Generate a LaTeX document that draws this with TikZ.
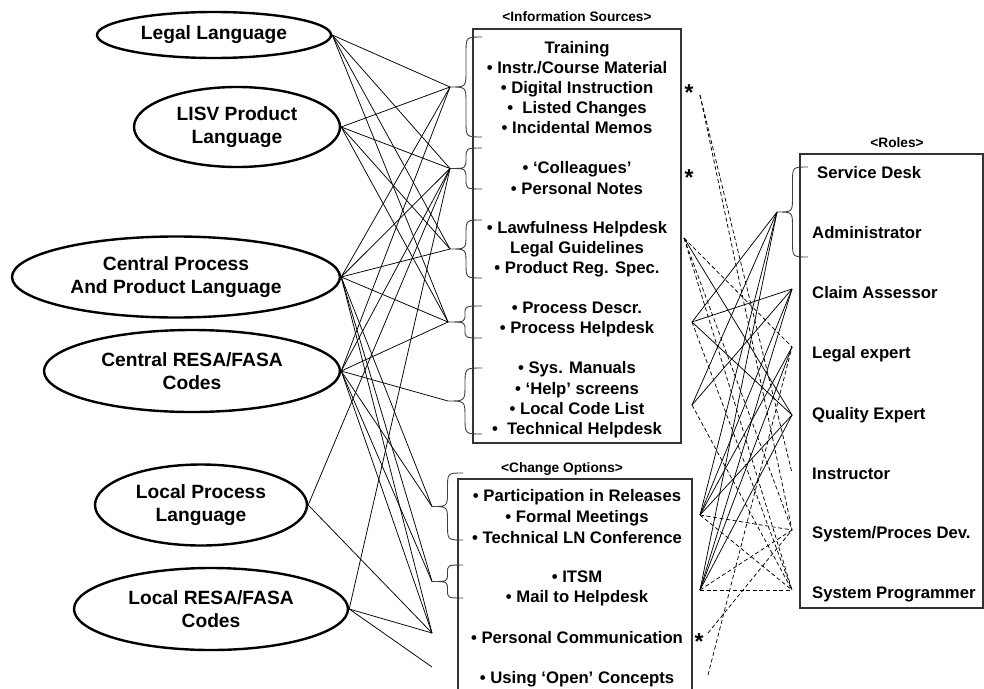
\documentclass[tikz,border=0pt]{standalone}
\usepackage{fontspec}
\setmainfont{Liberation Sans}
\usetikzlibrary{shapes.geometric}

% left curly brace: name, x of the hook ends, top y, bottom y, x of the tip
\newcommand\bracel[5]{%
  \pgfmathsetmacro\bxm{(#2+#5)/2}%
  \pgfmathsetmacro\bym{(#3+#4)/2}%
  \pgfmathsetmacro\brv{min((#2-#5)/2,(#4-#3)/4)}%
  \coordinate (#1) at (#5,\bym);
  \draw[bracket] (#2,#3) .. controls (\bxm,#3) .. (\bxm,{#3+\brv})
     -- (\bxm,{\bym-\brv}) .. controls (\bxm,\bym) .. (#1)
     .. controls (\bxm,\bym) .. (\bxm,{\bym+\brv})
     -- (\bxm,{#4-\brv}) .. controls (\bxm,#4) .. (#2,#4);
}

\begin{document}
\begin{tikzpicture}[x=1pt,y=-1pt,
  lang/.style={draw, line width=2.4pt, ellipse, inner sep=0pt, align=center,
    font=\fontsize{19.2}{23.5}\selectfont\bfseries},
  src/.style={anchor=base, inner sep=0pt, font=\fontsize{16.7}{20}\selectfont\bfseries},
  role/.style={anchor=base west, inner sep=0pt, font=\fontsize{16.7}{20}\selectfont\bfseries},
  head/.style={anchor=base, inner sep=0pt, font=\fontsize{13.7}{16}\selectfont\bfseries},
  starmark/.style={anchor=base, inner sep=0pt, font=\fontsize{23}{26}\selectfont\bfseries},
  panel/.style={draw=black!80, line width=1.1pt},
  bracket/.style={draw=black!75, line width=0.9pt},
  link/.style={line width=0.75pt},
  dlink/.style={line width=0.75pt, dash pattern=on 4pt off 2.6pt},
]
\useasboundingbox (0,0) rectangle (984,688);
\clip (0,0) rectangle (984,688);
\fill[white] (0,0) rectangle (984,688);

% ---- language ellipses
\node[lang, minimum width=234pt, minimum height=46pt] (legal) at (214,35) {Legal Language};
\node[lang, minimum width=206pt, minimum height=80pt] (lisv) at (237,127) {LISV Product\\Language};
\node[lang, minimum width=328pt, minimum height=81pt] (cpp) at (176,277) {Central Process\\And Product Language};
\node[lang, minimum width=296pt, minimum height=82pt] (cresa) at (192,371) {Central RESA/FASA\\Codes};
\node[lang, minimum width=212pt, minimum height=81pt] (lpl) at (201,505) {Local Process\\Language};
\node[lang, minimum width=274pt, minimum height=82pt] (lresa) at (211,609) {Local RESA/FASA\\Codes};

% ---- information sources
\node[head] (hsrc) at (577,21) {<Information Sources>};
\draw[panel] (473,29) rectangle (681,443);
\foreach \t [count=\i] in {Training, • Instr./Course Material, • Digital Instruction,
    •\ \ Listed Changes, • Incidental Memos}
  \node[src] (sa\i) at (577,{33+20*\i}) {\t};
\node[src] (sb1) at (577,173) {• ‘Colleagues’};
\node[src] (sb2) at (577,194) {• Personal Notes};
\node[src] (sc1) at (577,233) {• Lawfulness Helpdesk};
\node[src] (sc2) at (577,253) {Legal Guidelines};
\node[src] (sc3) at (577,273) {• Product Reg. Spec.};
\node[src] (sd1) at (577,313) {• Process Descr.};
\node[src] (sd2) at (577,333) {• Process Helpdesk};
\node[src] (se1) at (577,373) {• Sys. Manuals};
\node[src] (se2) at (577,394) {• ‘Help’ screens};
\node[src] (se3) at (577,414) {• Local Code List};
\node[src] (se4) at (577,434) {•\ \ Technical Helpdesk};

\bracel{t1}{482}{37}{137}{450}
\bracel{t2}{482}{148}{189}{450}
\bracel{t3}{482}{220}{278}{450}
\bracel{t4}{482}{306}{338}{448}
\bracel{t5}{482}{368}{434}{448}

% ---- change options
\node[head] (hchg) at (562,472) {<Change Options>};
\draw[panel] (458,700) -- (458,479) -- (692,479) -- (692,700);
\node[src] (ca1) at (577,501) {• Participation in Releases};
\node[src] (ca2) at (577,522) {• Formal Meetings};
\node[src] (ca3) at (577,543) {• Technical LN Conference};
\node[src] (cb1) at (577,582) {• ITSM};
\node[src] (cb2) at (577,602) {• Mail to Helpdesk};
\node[src] (cc1) at (577,643) {• Personal Communication};
\node[src] (cd1) at (577,683) {• Using ‘Open’ Concepts};

\bracel{c1}{463}{473}{540}{432}
\bracel{c2}{463}{565}{598}{432}
\coordinate (c3) at (432,633);
\coordinate (c4) at (432,667);

% ---- roles
\node[head] (hrole) at (897,147) {<Roles>};
\draw[panel] (800,154) rectangle (983,608);
\node[role] (r1) at (817,178) {Service Desk};
\node[role] (r2) at (812,238) {Administrator};
\node[role] (r3) at (812,298) {Claim Assessor};
\node[role] (r4) at (812,358) {Legal expert};
\node[role] (r5) at (812,419) {Quality Expert};
\node[role] (r6) at (812,479) {Instructor};
\node[role] (r7) at (812,538) {System/Proces Dev.};
\node[role] (r8) at (812,598) {System Programmer};
\bracel{rb}{808}{167}{257}{777}

% ---- markers
\node[starmark] (st1) at (689,100) {*};
\node[starmark] (st2) at (689,185) {*};
\node[starmark] (st3) at (699,649) {*};

% ---- connection points on the right of the source panels
\coordinate (s1) at (700,95);
\coordinate (s3) at (684,238);
\coordinate (s4) at (692,322);
\coordinate (s5) at (692,405);
\coordinate (g1) at (700,515);
\coordinate (g2) at (700,590);
\coordinate (g3) at (708,633);
\coordinate (g4) at (708,675);
\coordinate (rc) at (792,289);
\coordinate (rl) at (792,347);
\coordinate (rq) at (792,415);
\coordinate (ri) at (792,473);
\coordinate (rd) at (792,530);
\coordinate (rp) at (792,590);

% ---- languages to sources and change options
\foreach \a/\b in {legal/t1, legal/t2, legal/t3, legal/t4,
    lisv/t1, lisv/t2, lisv/t3, lisv/t4,
    cpp/t1, cpp/t2, cpp/t3, cpp/t4, cpp/c1, cpp/c2, cpp/c3,
    cresa/t1, cresa/t2, cresa/t4, cresa/t5, cresa/c1, cresa/c2, cresa/c3,
    lpl/t2, lpl/c3, lresa/t2, lresa/c3, lresa/c4}
  \draw[link] (\a.east) -- (\b);

% ---- sources and change options to roles
\foreach \a/\b in {s3/rq, s4/rb, s4/rc, s4/rq, s5/rb, s5/rc,
    g1/rb, g1/rc, g1/rl, g1/rq, g2/rb, g2/rc, g2/rl, g2/rq}
  \draw[link] (\a) -- (\b);
\foreach \a/\b in {s1/ri, s1/rd, s3/rl, s3/rd, s3/rp, s4/rp, s5/rp,
    g1/rd, g1/rp, g2/rd, g2/rp, g3/rd, g4/rl}
  \draw[dlink] (\a) -- (\b);
\end{tikzpicture}
\end{document}
